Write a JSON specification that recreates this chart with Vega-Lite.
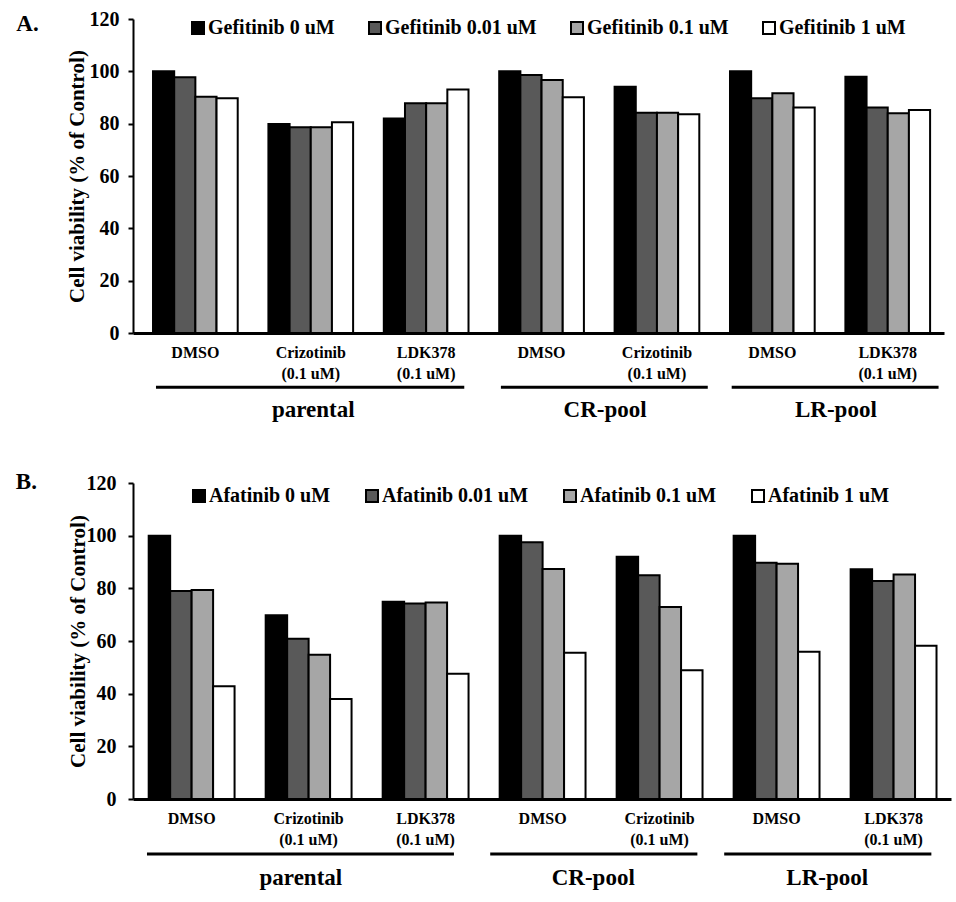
{
  "$schema": "https://vega.github.io/schema/vega-lite/v6.json",
  "background": "white",
  "padding": {"left": 15, "top": 9, "right": 5, "bottom": 5},
  "columns": 1,
  "spacing": 48,
  "resolve": {
    "scale": {"fill": "independent", "xOffset": "independent", "x": "independent", "y": "independent"},
    "legend": {"fill": "independent"},
    "axis": {"x": "independent", "y": "independent"}
  },
  "config": {
    "font": "Liberation Serif",
    "view": {"stroke": null},
    "axis": {
      "labelFont": "Liberation Serif", "titleFont": "Liberation Serif",
      "labelFontWeight": "bold", "titleFontWeight": "bold",
      "labelColor": "black", "titleColor": "black",
      "domainColor": "black", "tickColor": "black", "grid": false
    },
    "axisX": {
      "title": null, "ticks": false, "tickSize": 0, "labelAngle": 0, "labelFontSize": 16, "labelPadding": 11, "labelLineHeight": 21, "labelLimit": 0, "domainWidth": 3
    },
    "legend": {
      "labelFont": "Liberation Serif", "labelFontWeight": "bold", "labelColor": "black"
    }
  },
  "datasets": {
    "gef": [
      {"condition": "parental: DMSO", "dose": "Gefitinib 0 uM", "viability": 100},
      {"condition": "parental: DMSO", "dose": "Gefitinib 0.01 uM", "viability": 97.7},
      {"condition": "parental: DMSO", "dose": "Gefitinib 0.1 uM", "viability": 90.3},
      {"condition": "parental: DMSO", "dose": "Gefitinib 1 uM", "viability": 89.7},
      {"condition": "parental: Crizotinib (0.1 uM)", "dose": "Gefitinib 0 uM", "viability": 79.9},
      {"condition": "parental: Crizotinib (0.1 uM)", "dose": "Gefitinib 0.01 uM", "viability": 78.6},
      {"condition": "parental: Crizotinib (0.1 uM)", "dose": "Gefitinib 0.1 uM", "viability": 78.6},
      {"condition": "parental: Crizotinib (0.1 uM)", "dose": "Gefitinib 1 uM", "viability": 80.5},
      {"condition": "parental: LDK378 (0.1 uM)", "dose": "Gefitinib 0 uM", "viability": 82.0},
      {"condition": "parental: LDK378 (0.1 uM)", "dose": "Gefitinib 0.01 uM", "viability": 87.8},
      {"condition": "parental: LDK378 (0.1 uM)", "dose": "Gefitinib 0.1 uM", "viability": 87.8},
      {"condition": "parental: LDK378 (0.1 uM)", "dose": "Gefitinib 1 uM", "viability": 93.1},
      {"condition": "CR-pool: DMSO", "dose": "Gefitinib 0 uM", "viability": 100},
      {"condition": "CR-pool: DMSO", "dose": "Gefitinib 0.01 uM", "viability": 98.6},
      {"condition": "CR-pool: DMSO", "dose": "Gefitinib 0.1 uM", "viability": 96.7},
      {"condition": "CR-pool: DMSO", "dose": "Gefitinib 1 uM", "viability": 90.1},
      {"condition": "CR-pool: Crizotinib (0.1 uM)", "dose": "Gefitinib 0 uM", "viability": 94.1},
      {"condition": "CR-pool: Crizotinib (0.1 uM)", "dose": "Gefitinib 0.01 uM", "viability": 84.2},
      {"condition": "CR-pool: Crizotinib (0.1 uM)", "dose": "Gefitinib 0.1 uM", "viability": 84.2},
      {"condition": "CR-pool: Crizotinib (0.1 uM)", "dose": "Gefitinib 1 uM", "viability": 83.6},
      {"condition": "LR-pool: DMSO", "dose": "Gefitinib 0 uM", "viability": 100},
      {"condition": "LR-pool: DMSO", "dose": "Gefitinib 0.01 uM", "viability": 89.7},
      {"condition": "LR-pool: DMSO", "dose": "Gefitinib 0.1 uM", "viability": 91.6},
      {"condition": "LR-pool: DMSO", "dose": "Gefitinib 1 uM", "viability": 86.2},
      {"condition": "LR-pool: LDK378 (0.1 uM)", "dose": "Gefitinib 0 uM", "viability": 97.9},
      {"condition": "LR-pool: LDK378 (0.1 uM)", "dose": "Gefitinib 0.01 uM", "viability": 86.2},
      {"condition": "LR-pool: LDK378 (0.1 uM)", "dose": "Gefitinib 0.1 uM", "viability": 84.0},
      {"condition": "LR-pool: LDK378 (0.1 uM)", "dose": "Gefitinib 1 uM", "viability": 85.2}
    ],
    "afa": [
      {"condition": "parental: DMSO", "dose": "Afatinib 0 uM", "viability": 100},
      {"condition": "parental: DMSO", "dose": "Afatinib 0.01 uM", "viability": 79.0},
      {"condition": "parental: DMSO", "dose": "Afatinib 0.1 uM", "viability": 79.4},
      {"condition": "parental: DMSO", "dose": "Afatinib 1 uM", "viability": 42.8},
      {"condition": "parental: Crizotinib (0.1 uM)", "dose": "Afatinib 0 uM", "viability": 69.8},
      {"condition": "parental: Crizotinib (0.1 uM)", "dose": "Afatinib 0.01 uM", "viability": 60.9},
      {"condition": "parental: Crizotinib (0.1 uM)", "dose": "Afatinib 0.1 uM", "viability": 54.8},
      {"condition": "parental: Crizotinib (0.1 uM)", "dose": "Afatinib 1 uM", "viability": 38.0},
      {"condition": "parental: LDK378 (0.1 uM)", "dose": "Afatinib 0 uM", "viability": 74.9},
      {"condition": "parental: LDK378 (0.1 uM)", "dose": "Afatinib 0.01 uM", "viability": 74.2},
      {"condition": "parental: LDK378 (0.1 uM)", "dose": "Afatinib 0.1 uM", "viability": 74.6},
      {"condition": "parental: LDK378 (0.1 uM)", "dose": "Afatinib 1 uM", "viability": 47.6},
      {"condition": "CR-pool: DMSO", "dose": "Afatinib 0 uM", "viability": 100},
      {"condition": "CR-pool: DMSO", "dose": "Afatinib 0.01 uM", "viability": 97.5},
      {"condition": "CR-pool: DMSO", "dose": "Afatinib 0.1 uM", "viability": 87.3},
      {"condition": "CR-pool: DMSO", "dose": "Afatinib 1 uM", "viability": 55.5},
      {"condition": "CR-pool: Crizotinib (0.1 uM)", "dose": "Afatinib 0 uM", "viability": 92.0},
      {"condition": "CR-pool: Crizotinib (0.1 uM)", "dose": "Afatinib 0.01 uM", "viability": 85.0},
      {"condition": "CR-pool: Crizotinib (0.1 uM)", "dose": "Afatinib 0.1 uM", "viability": 72.9},
      {"condition": "CR-pool: Crizotinib (0.1 uM)", "dose": "Afatinib 1 uM", "viability": 48.9},
      {"condition": "LR-pool: DMSO", "dose": "Afatinib 0 uM", "viability": 100},
      {"condition": "LR-pool: DMSO", "dose": "Afatinib 0.01 uM", "viability": 89.7},
      {"condition": "LR-pool: DMSO", "dose": "Afatinib 0.1 uM", "viability": 89.3},
      {"condition": "LR-pool: DMSO", "dose": "Afatinib 1 uM", "viability": 55.9},
      {"condition": "LR-pool: LDK378 (0.1 uM)", "dose": "Afatinib 0 uM", "viability": 87.2},
      {"condition": "LR-pool: LDK378 (0.1 uM)", "dose": "Afatinib 0.01 uM", "viability": 82.8},
      {"condition": "LR-pool: LDK378 (0.1 uM)", "dose": "Afatinib 0.1 uM", "viability": 85.3},
      {"condition": "LR-pool: LDK378 (0.1 uM)", "dose": "Afatinib 1 uM", "viability": 58.2}
    ],
    "pools": [
      {"pool": "parental", "start": "parental: DMSO", "end": "parental: LDK378 (0.1 uM)", "anchor": "parental: Crizotinib (0.1 uM)"},
      {"pool": "CR-pool", "start": "CR-pool: DMSO", "end": "CR-pool: Crizotinib (0.1 uM)", "anchor": "CR-pool: DMSO"},
      {"pool": "LR-pool", "start": "LR-pool: DMSO", "end": "LR-pool: LDK378 (0.1 uM)", "anchor": "LR-pool: DMSO"}
    ]
  },
  "concat": [
    {
      "width": 811,
      "height": 314,
      "title": {"text": "A.", "orient": "left", "anchor": "end", "angle": 0, "align": "right", "baseline": "top", "offset": 5, "dy": 4, "fontSize": 23, "font": "Liberation Serif", "fontWeight": "bold", "color": "black"},
      "layer": [
        {
          "data": {"name": "gef"},
          "mark": {"type": "bar", "stroke": "black", "strokeWidth": 2},
          "encoding": {
            "x": {
              "field": "condition", "type": "nominal", "sort": null,
              "scale": {"domain": ["parental: DMSO", "parental: Crizotinib (0.1 uM)", "parental: LDK378 (0.1 uM)", "CR-pool: DMSO", "CR-pool: Crizotinib (0.1 uM)", "LR-pool: DMSO", "LR-pool: LDK378 (0.1 uM)"], "paddingInner": 0.266, "paddingOuter": 0.147, "align": 0.59},
              "axis": {"title": null, "labelExpr": "split(replace(split(datum.label, ': ')[1], ' (', '|('), '|')"}
            },
            "xOffset": {"field": "dose", "type": "nominal", "sort": ["Gefitinib 0 uM", "Gefitinib 0.01 uM", "Gefitinib 0.1 uM", "Gefitinib 1 uM"], "scale": {"paddingInner": 0, "paddingOuter": 0}},
            "y": {
              "field": "viability", "type": "quantitative",
              "scale": {"domain": [0, 120], "nice": false},
              "axis": {"title": "Cell viability (% of Control)", "values": [0, 20, 40, 60, 80, 100, 120], "labelFontSize": 20, "titleFontSize": 21, "tickSize": 5, "tickWidth": 2, "domainWidth": 2, "labelPadding": 9, "titlePadding": 2}
            },
            "fill": {
              "field": "dose", "type": "nominal",
              "scale": {"domain": ["Gefitinib 0 uM", "Gefitinib 0.01 uM", "Gefitinib 0.1 uM", "Gefitinib 1 uM"], "range": ["#000000", "#595959", "#a6a6a6", "#ffffff"]},
              "legend": {"title": null, "orient": "none", "legendX": 55, "legendY": -1, "direction": "horizontal", "columns": 4, "labelFontSize": 20, "symbolType": "square", "symbolSize": 144, "symbolStrokeColor": "black", "symbolStrokeWidth": 2, "labelOffset": 0, "columnPadding": 30}
            }
          }
        },
        {
          "data": {"name": "pools"},
          "transform": [{"filter": "datum.pool == 'parental'"}],
          "mark": {"type": "rule", "strokeWidth": 3, "color": "black", "clip": false},
          "encoding": {
            "x": {"field": "start", "type": "nominal", "bandPosition": 0.035, "axis": {"title": null}},
            "x2": {"field": "end", "bandPosition": 0.95},
            "y": {"datum": -20.7}
          }
        },
        {
          "data": {"name": "pools"},
          "transform": [{"filter": "datum.pool != 'parental'"}],
          "mark": {"type": "rule", "strokeWidth": 3, "color": "black", "clip": false},
          "encoding": {
            "x": {"field": "start", "type": "nominal", "bandPosition": 0.02, "axis": {"title": null}},
            "x2": {"field": "end", "bandPosition": 1.1},
            "y": {"datum": -20.7}
          }
        },
        {
          "data": {"name": "pools"},
          "transform": [{"filter": "datum.pool == 'parental'"}],
          "mark": {"type": "text", "fontSize": 23, "fontWeight": "bold", "font": "Liberation Serif", "baseline": "middle", "color": "black"},
          "encoding": {
            "x": {"field": "anchor", "type": "nominal", "bandPosition": 0.53, "axis": {"title": null}},
            "y": {"datum": -29.5},
            "text": {"field": "pool"}
          }
        },
        {
          "data": {"name": "pools"},
          "transform": [{"filter": "datum.pool != 'parental'"}],
          "mark": {"type": "text", "fontSize": 23, "fontWeight": "bold", "font": "Liberation Serif", "baseline": "middle", "color": "black"},
          "encoding": {
            "x": {"field": "anchor", "type": "nominal", "bandPosition": 1.25, "axis": {"title": null}},
            "y": {"datum": -29.5},
            "text": {"field": "pool"}
          }
        }
      ]
    },
    {
      "width": 818,
      "height": 316,
      "title": {"text": "B.", "orient": "left", "anchor": "end", "angle": 0, "align": "right", "baseline": "top", "offset": 9, "dy": -2, "fontSize": 23, "font": "Liberation Serif", "fontWeight": "bold", "color": "black"},
      "layer": [
        {
          "data": {"name": "afa"},
          "mark": {"type": "bar", "stroke": "black", "strokeWidth": 2},
          "encoding": {
            "x": {
              "field": "condition", "type": "nominal", "sort": null,
              "scale": {"domain": ["parental: DMSO", "parental: Crizotinib (0.1 uM)", "parental: LDK378 (0.1 uM)", "CR-pool: DMSO", "CR-pool: Crizotinib (0.1 uM)", "LR-pool: DMSO", "LR-pool: LDK378 (0.1 uM)"], "paddingInner": 0.266, "paddingOuter": 0.129, "align": 0.52},
              "axis": {"title": null, "labelExpr": "split(replace(split(datum.label, ': ')[1], ' (', '|('), '|')"}
            },
            "xOffset": {"field": "dose", "type": "nominal", "sort": ["Afatinib 0 uM", "Afatinib 0.01 uM", "Afatinib 0.1 uM", "Afatinib 1 uM"], "scale": {"paddingInner": 0, "paddingOuter": 0}},
            "y": {
              "field": "viability", "type": "quantitative",
              "scale": {"domain": [0, 120], "nice": false},
              "axis": {"title": "Cell viability (% of Control)", "values": [0, 20, 40, 60, 80, 100, 120], "labelFontSize": 20, "titleFontSize": 21, "tickSize": 5, "tickWidth": 2, "domainWidth": 2, "labelPadding": 12, "titlePadding": -2}
            },
            "fill": {
              "field": "dose", "type": "nominal",
              "scale": {"domain": ["Afatinib 0 uM", "Afatinib 0.01 uM", "Afatinib 0.1 uM", "Afatinib 1 uM"], "range": ["#000000", "#595959", "#a6a6a6", "#ffffff"]},
              "legend": {"title": null, "orient": "none", "legendX": 56, "legendY": 3, "direction": "horizontal", "columns": 4, "labelFontSize": 20, "symbolType": "square", "symbolSize": 144, "symbolStrokeColor": "black", "symbolStrokeWidth": 2, "labelOffset": 0, "columnPadding": 31}
            }
          }
        },
        {
          "data": {"name": "pools"},
          "transform": [{"filter": "datum.pool == 'parental'"}],
          "mark": {"type": "rule", "strokeWidth": 3, "color": "black", "clip": false},
          "encoding": {
            "x": {"field": "start", "type": "nominal", "bandPosition": -0.02, "axis": {"title": null}},
            "x2": {"field": "end", "bandPosition": 0.83},
            "y": {"datum": -20.9}
          }
        },
        {
          "data": {"name": "pools"},
          "transform": [{"filter": "datum.pool != 'parental'"}],
          "mark": {"type": "rule", "strokeWidth": 3, "color": "black", "clip": false},
          "encoding": {
            "x": {"field": "start", "type": "nominal", "bandPosition": -0.11, "axis": {"title": null}},
            "x2": {"field": "end", "bandPosition": 0.94},
            "y": {"datum": -20.9}
          }
        },
        {
          "data": {"name": "pools"},
          "transform": [{"filter": "datum.pool == 'parental'"}],
          "mark": {"type": "text", "fontSize": 23, "fontWeight": "bold", "font": "Liberation Serif", "baseline": "middle", "color": "black"},
          "encoding": {
            "x": {"field": "anchor", "type": "nominal", "bandPosition": 0.41, "axis": {"title": null}},
            "y": {"datum": -30},
            "text": {"field": "pool"}
          }
        },
        {
          "data": {"name": "pools"},
          "transform": [{"filter": "datum.pool != 'parental'"}],
          "mark": {"type": "text", "fontSize": 23, "fontWeight": "bold", "font": "Liberation Serif", "baseline": "middle", "color": "black"},
          "encoding": {
            "x": {"field": "anchor", "type": "nominal", "bandPosition": 1.09, "axis": {"title": null}},
            "y": {"datum": -30},
            "text": {"field": "pool"}
          }
        }
      ]
    }
  ]
}
